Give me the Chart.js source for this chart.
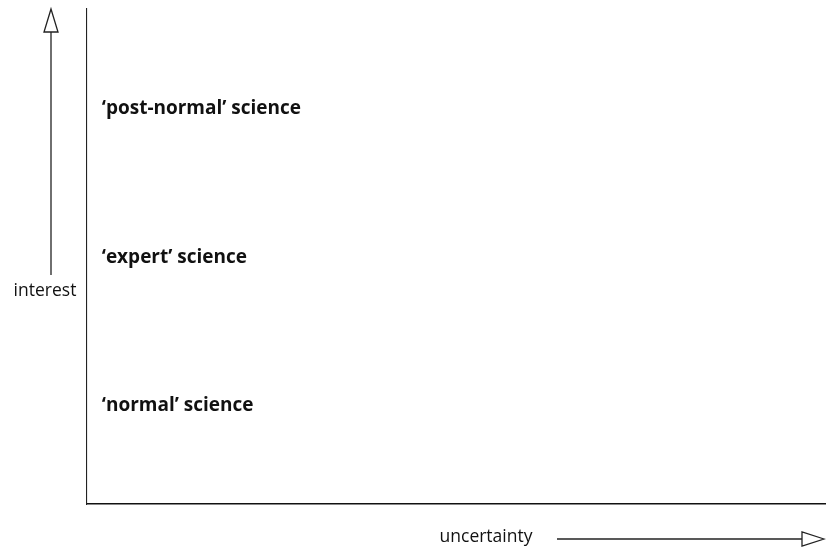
<!DOCTYPE html>
<html lang="en">

<head>
    <meta charset="UTF-8">
    <title>Science types</title>
    <script src="https://cdn.jsdelivr.net/npm/chart.js@4.4.1/dist/chart.umd.min.js"></script>
    <style>
        html, body { margin: 0; padding: 0; background: #fff; }
        .chart-container { position: relative; width: 826px; height: 550px; }
    </style>
</head>

<body>

    <!--chart canvas start-->
    <div class="chart-container">
        <canvas id="chart"></canvas>
    </div>
    <!--chart canvas end-->

    <script>

    // data
    const categories = ['\u2018normal\u2019 science', '\u2018expert\u2019 science', '\u2018post-normal\u2019 science'];
    const xvalues = [0.2, 0.2, 0.2];
    const yvalues = [1, 2, 3];
    const xtitle = 'uncertainty';
    const ytitle = 'interest';

    const labelFont = 'bold 19px "Open Sans"';
    const titleFont = '17.5px "Open Sans"';

    // draws an open triangle head
    function arrowHead(ctx, tip, base1, base2) {
        ctx.beginPath();
        ctx.moveTo(tip[0], tip[1]);
        ctx.lineTo(base1[0], base1[1]);
        ctx.lineTo(base2[0], base2[1]);
        ctx.closePath();
        ctx.fillStyle = '#fff';
        ctx.fill();
        ctx.stroke();
    }

    // text labels at the points + axis arrows
    const labelPlugin = {
        id: 'labels',
        afterDatasetsDraw(chart) {
            const ctx = chart.ctx;
            const meta = chart.getDatasetMeta(0);
            ctx.save();
            ctx.font = labelFont;
            ctx.fillStyle = '#111';
            ctx.textAlign = 'left';
            ctx.textBaseline = 'middle';
            meta.data.forEach((pt, i) => {
                ctx.fillText(categories[i], pt.x, pt.y);
            });
            ctx.restore();
        },
        afterDraw(chart) {
            const ctx = chart.ctx;
            const area = chart.chartArea;
            ctx.save();
            ctx.strokeStyle = '#222';
            ctx.lineWidth = 1.3;

            // up arrow (interest)
            const ax = area.left - 36;
            ctx.beginPath();
            ctx.moveTo(ax, 275);
            ctx.lineTo(ax, area.top + 22);
            ctx.stroke();
            arrowHead(ctx, [ax, area.top], [ax - 7, area.top + 23], [ax + 7, area.top + 23]);

            // right arrow (uncertainty)
            const ay = area.bottom + 35;
            ctx.beginPath();
            ctx.moveTo(557, ay);
            ctx.lineTo(803, ay);
            ctx.stroke();
            arrowHead(ctx, [area.right - 2, ay], [802, ay - 7], [802, ay + 7]);

            // axis titles
            ctx.font = titleFont;
            ctx.fillStyle = '#111';
            ctx.textAlign = 'center';
            ctx.textBaseline = 'middle';
            ctx.fillText(ytitle, ax - 6, 291);
            ctx.fillText(xtitle, 486, ay - 2);
            ctx.restore();
        }
    };

    const ctx = document.getElementById('chart').getContext('2d');

    const myChart = new Chart(ctx, {
        type: 'scatter',
        data: {
            datasets: [
                {
                    label: 'science',
                    data: xvalues.map((x, i) => ({ x: x, y: yvalues[i] })),
                    pointRadius: 0,
                    pointHoverRadius: 0
                }
            ]
        },
        options: {
            responsive: true,
            maintainAspectRatio: false,
            animation: false,
            events: [],
            layout: {
                padding: { left: 79, right: 0, top: 9, bottom: 38 }
            },
            plugins: {
                legend: { display: false },
                tooltip: { enabled: false }
            },
            scales: {
                x: {
                    type: 'linear',
                    min: 0,
                    max: 10,
                    grid: { display: false },
                    ticks: { display: false },
                    border: { display: true, color: '#111', width: 1.6 }
                },
                y: {
                    type: 'linear',
                    min: 0.34,
                    max: 3.67,
                    grid: { display: false },
                    ticks: { display: false },
                    border: { display: true, color: '#222', width: 1.1 }
                }
            }
        },
        plugins: [labelPlugin]
    });

    </script>

</body>

</html>
